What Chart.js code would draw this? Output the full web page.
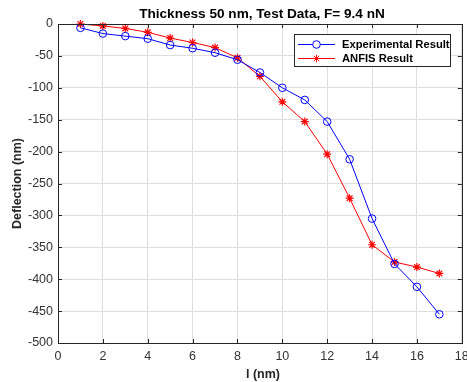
<!DOCTYPE html>
<html>
<head>
<meta charset="utf-8">
<script src="https://cdn.jsdelivr.net/npm/chart.js@4"></script>
<style>
  html, body { margin: 0; padding: 0; background: #fff; }
  #box { width: 467px; height: 382px; }
</style>
</head>
<body>
<div id="box"><canvas id="chart" width="467" height="382"></canvas></div>
<script>
// data
const lengths = [1, 2, 3, 4, 5, 6, 7, 8, 9, 10, 11, 12, 13, 14, 15, 16, 17];
const experimental = [-6, -15, -19, -23, -33, -38, -45, -56, -76, -100, -119, -153, -212, -305, -376, -412, -455];
const anfis = [0, -3, -7, -13, -22, -29, -37, -53, -82, -122, -153, -204, -273, -346, -373, -381, -391];
const seriesNames = ["Experimental Result", "ANFIS Result"];
const chartTitle = "Thickness 50 nm, Test Data, F= 9.4 nN";
const xTitle = "l (nm)";
const yTitle = "Deflection (nm)";

const axisColor = "#262626";
const font = "Arial, 'Liberation Sans', Helvetica, sans-serif";

function toPoints(ys) {
    return lengths.map((x, i) => ({ x: x, y: ys[i] }));
}

// matlab-ish frame: box, inner ticks, title, axis labels, legend
const matlabFrame = {
    id: "matlabFrame",
    afterDraw(chart) {
        const ctx = chart.ctx;
        const a = chart.chartArea;
        const xs = chart.scales.x;
        const ys = chart.scales.y;
        ctx.save();
        ctx.strokeStyle = axisColor;
        ctx.lineWidth = 1;
        ctx.beginPath();
        for (let v = 0; v <= 18; v += 2) {
            const px = Math.round(xs.getPixelForValue(v)) + 0.5;
            ctx.moveTo(px, a.bottom); ctx.lineTo(px, a.bottom - 4);
            ctx.moveTo(px, a.top); ctx.lineTo(px, a.top + 4);
        }
        for (let v = -500; v <= 0; v += 50) {
            const py = Math.round(ys.getPixelForValue(v)) + 0.5;
            ctx.moveTo(a.left, py); ctx.lineTo(a.left + 4, py);
            ctx.moveTo(a.right, py); ctx.lineTo(a.right - 4, py);
        }
        ctx.stroke();
        ctx.strokeRect(Math.round(a.left) + 0.5, Math.round(a.top) + 0.5,
            Math.round(a.right - a.left), Math.round(a.bottom - a.top));

        // title and axis titles
        ctx.fillStyle = "#000";
        ctx.font = "bold 13.6px " + font;
        ctx.textAlign = "center";
        ctx.textBaseline = "middle";
        ctx.fillText(chartTitle, 262, 14);
        ctx.font = "bold 12.5px " + font;
        ctx.fillStyle = "#262626";
        ctx.fillText(xTitle, 263, 375);
        ctx.save();
        ctx.translate(18, (a.top + a.bottom) / 2);
        ctx.rotate(-Math.PI / 2);
        ctx.fillText(yTitle, 0, 0);
        ctx.restore();

        // legend
        const lx = 294.5, ly = 34.5, lw = 156, lh = 32;
        ctx.fillStyle = "#fff";
        ctx.fillRect(lx, ly, lw, lh);
        ctx.strokeStyle = axisColor;
        ctx.strokeRect(lx, ly, lw, lh);
        const rows = [
            { color: "#0000ff", style: "circle", y: 44.5 },
            { color: "#ff0000", style: "star", y: 58.5 }
        ];
        rows.forEach((r, i) => {
            ctx.strokeStyle = r.color;
            ctx.lineWidth = 1;
            ctx.beginPath();
            ctx.moveTo(298, r.y); ctx.lineTo(335, r.y);
            ctx.stroke();
            Chart.helpers.drawPoint(ctx, { pointStyle: r.style, radius: 3.8, borderWidth: 1 }, 316.5, r.y);
            ctx.fillStyle = "#000";
            ctx.font = "bold 11.2px " + font;
            ctx.textAlign = "left";
            ctx.fillText(seriesNames[i], 342, r.y + 0.5);
        });
        ctx.restore();
    }
};

new Chart(document.getElementById("chart"), {
    type: "line",
    data: {
        datasets: [{
            label: seriesNames[0],
            data: toPoints(experimental),
            borderColor: "#0000ff",
            backgroundColor: "rgba(0,0,0,0)",
            borderWidth: 1,
            pointStyle: "circle",
            pointRadius: 3.8,
            pointBorderWidth: 1,
            pointBorderColor: "#0000ff",
            pointBackgroundColor: "rgba(0,0,0,0)",
            clip: false,
            tension: 0
        }, {
            label: seriesNames[1],
            data: toPoints(anfis),
            borderColor: "#ff0000",
            backgroundColor: "#ff0000",
            borderWidth: 1,
            pointStyle: "star",
            pointRadius: 4,
            pointBorderWidth: 1.2,
            pointBorderColor: "#ff0000",
            clip: false,
            tension: 0
        }]
    },
    options: {
        responsive: false,
        animation: false,
        layout: { padding: { top: 24, right: 4, left: 0, bottom: 0 } },
        plugins: {
            legend: { display: false },
            title: { display: false },
            tooltip: { enabled: false }
        },
        scales: {
            x: {
                type: "linear",
                min: 0, max: 18,
                ticks: { stepSize: 2, color: "#333333", font: { size: 12.5, family: font }, padding: 6, maxRotation: 0 },
                grid: { color: "#dedede", drawTicks: false },
                border: { display: false },
                afterFit(s) { s.height = 39; s.paddingLeft = 0; s.paddingRight = 0; }
            },
            y: {
                min: -500, max: 0,
                ticks: { stepSize: 50, color: "#333333", font: { size: 12.5, family: font }, padding: 5 },
                grid: { color: "#dedede", drawTicks: false },
                border: { display: false },
                afterFit(s) { s.width = 58; s.paddingTop = 0; s.paddingBottom = 0; }
            }
        }
    },
    plugins: [matlabFrame]
});
</script>
</body>
</html>
